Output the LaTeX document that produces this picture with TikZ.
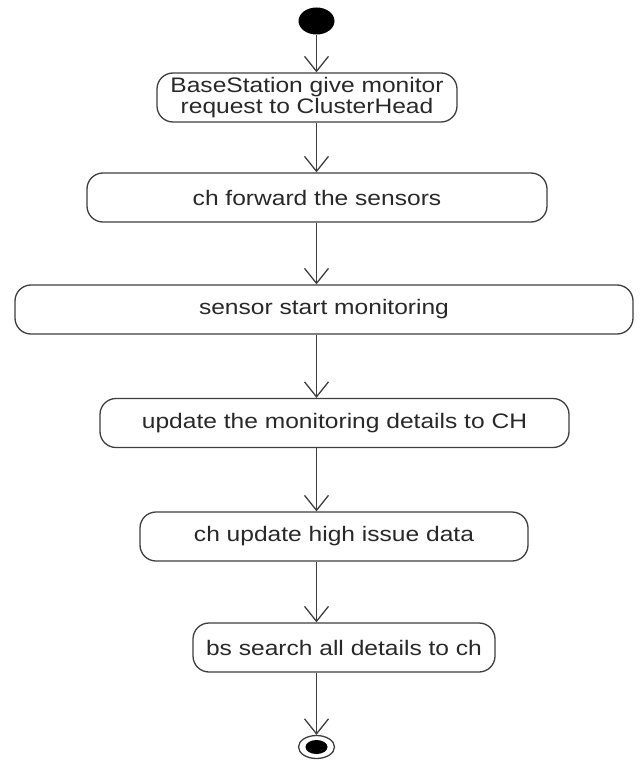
\documentclass[tikz,border=0pt]{standalone}
\usepackage{fontspec}
\setmainfont{Liberation Sans}[FakeStretch=1.17]
\usepackage{xcolor}
\usepackage{tikz}
\usetikzlibrary{positioning, shapes.geometric, arrows.meta}
\definecolor{linegray}{RGB}{62,62,62}
\definecolor{textgray}{RGB}{40,40,40}

\begin{document}
\begin{tikzpicture}[x=1pt, y=-1pt,
    % Node styles
    startdot/.style={ellipse, fill=black, minimum width=36pt, minimum height=27pt, inner sep=0pt},
    enddot/.style={ellipse, draw=linegray, line width=1.3pt, minimum width=36pt, minimum height=23pt, inner sep=0pt},
    enddotfill/.style={ellipse, fill=black, minimum width=22pt, minimum height=14pt, inner sep=0pt},
    activity/.style={rectangle, rounded corners=16pt, draw=linegray, line width=1.3pt, minimum height=49pt, text=textgray, align=center, font=\fontsize{21}{21}\selectfont, inner sep=0pt},
    % Edge styles
    edge/.style={draw=linegray, line width=1.3pt, -{Straight Barb[length=15pt, width=24pt]}}
]
\useasboundingbox (0,0) rectangle (640,762);

% Initial state
\node[startdot] (start) at (316.5,21) {};

% Activities
\node[activity, minimum width=300pt] (request) at (307,97.5) {BaseStation give monitor\\request to ClusterHead};
\node[activity, minimum width=460pt] (forward) at (317,197.5) {ch forward the sensors};
\node[activity, minimum width=618pt] (monitor) at (324,309.5) {sensor start monitoring};
\node[activity, minimum width=469pt] (update) at (334.5,423) {update the monitoring details to CH};
\node[activity, minimum width=388pt] (issue) at (334,536.5) {ch update high issue data};
\node[activity, minimum width=302pt] (search) at (344,647.5) {bs search all details to ch};

% Final state
\node[enddot] (end) at (316.5,747) {};
\node[enddotfill] (endfill) at (end) {};

% Draw all edges
\draw[edge] (start) -- (start |- request.north);
\draw[edge] (request.south -| start) -- (forward.north -| start);
\draw[edge] (forward.south -| start) -- (monitor.north -| start);
\draw[edge] (monitor.south -| start) -- (update.north -| start);
\draw[edge] (update.south -| start) -- (issue.north -| start);
\draw[edge] (issue.south -| start) -- (search.north -| start);
\draw[edge] (search.south -| start) -- (end);

\end{tikzpicture}
\end{document}
